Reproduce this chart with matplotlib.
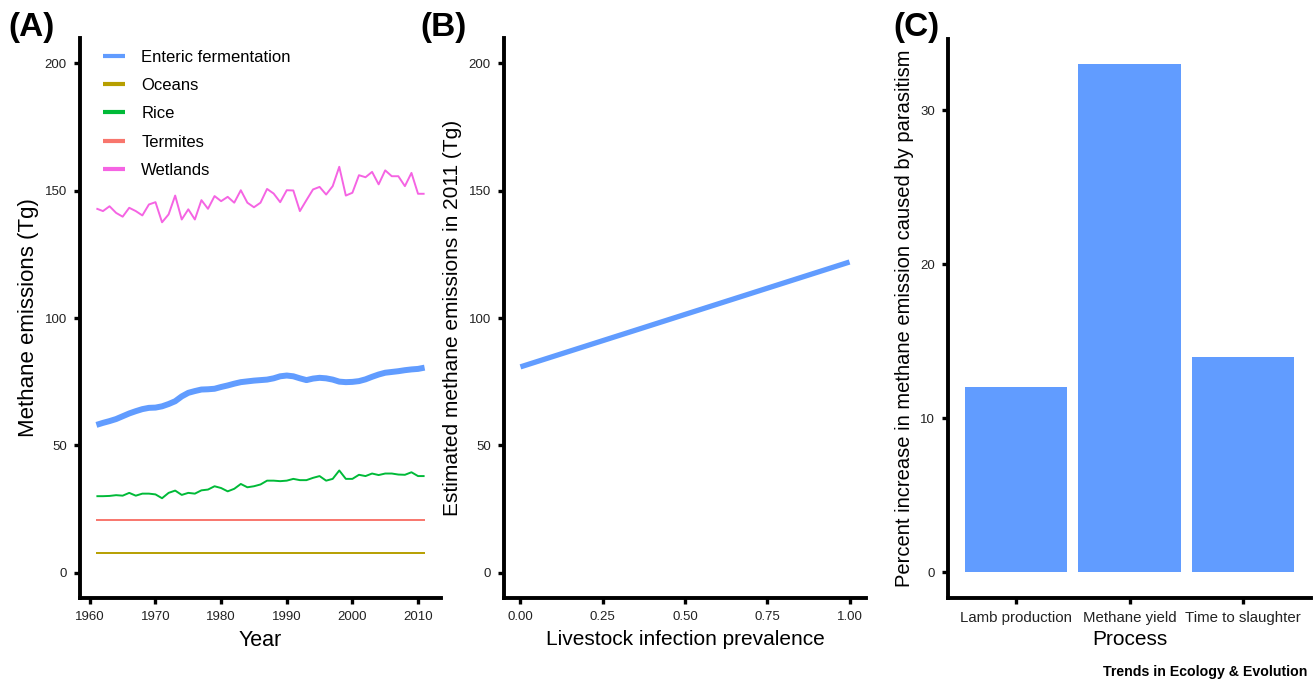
import numpy as np
import matplotlib
matplotlib.use("Agg")
import matplotlib.pyplot as plt
from matplotlib import font_manager

plt.rcParams['font.family'] = ['Liberation Sans', 'DejaVu Sans']

# ---- Panel A data (Tg per year, 1961-2011) ----
years = np.arange(1961, 2012)

enteric = [58.0, 58.8, 59.5, 60.3, 61.4, 62.5, 63.4, 64.2, 64.7, 64.8,
           65.3, 66.2, 67.3, 69.2, 70.6, 71.3, 71.9, 72.0, 72.2, 72.9,
           73.5, 74.2, 74.8, 75.1, 75.4, 75.6, 75.8, 76.3, 77.1, 77.4,
           77.1, 76.3, 75.6, 76.2, 76.5, 76.3, 75.8, 75.0, 74.8, 74.9,
           75.2, 75.9, 76.9, 77.8, 78.5, 78.8, 79.1, 79.5, 79.8, 80.0, 80.5]

oceans = [7.6] * len(years)

rice = [30.0, 30.0, 30.1, 30.4, 30.2, 31.3, 30.2, 31.0, 31.0, 30.7,
        29.2, 31.3, 32.2, 30.5, 31.3, 31.0, 32.3, 32.6, 33.9, 33.2,
        31.9, 32.9, 34.8, 33.5, 33.9, 34.6, 36.1, 36.1, 35.9, 36.1,
        36.8, 36.3, 36.3, 37.2, 37.9, 36.1, 36.8, 40.1, 36.8, 36.8,
        38.4, 37.9, 38.9, 38.3, 38.9, 38.9, 38.5, 38.4, 39.4, 37.9, 37.9]

termites = [20.6] * len(years)

wetlands = [143.0, 142.0, 143.9, 141.3, 139.8, 143.3, 142.0, 140.3, 144.6, 145.5,
            137.6, 140.7, 148.1, 138.7, 142.7, 138.7, 146.3, 142.9, 147.9, 145.9,
            147.6, 145.3, 150.2, 145.3, 143.5, 145.3, 150.7, 148.9, 145.5, 150.2,
            150.1, 142.0, 146.3, 150.5, 151.5, 148.5, 151.8, 159.4, 148.1, 149.2,
            156.1, 155.3, 157.4, 152.5, 158.0, 155.7, 155.7, 151.8, 157.0, 148.8, 148.8]

sources = ["Enteric fermentation", "Oceans", "Rice", "Termites", "Wetlands"]
source_colors = ["#619CFF", "#B79F00", "#00BA38", "#F8766D", "#F564E3"]

# ---- Panel B data ----
prevalence = [0.0, 1.0]
emissions_2011 = [80.8, 122.0]

# ---- Panel C data ----
processes = ["Lamb production", "Methane yield", "Time to slaughter"]
pct_increase = [12.0, 33.0, 14.0]

W, H = 1315, 681
fig = plt.figure(figsize=(W / 100, H / 100), dpi=100)


def px_axes(left, top, right, bottom):
    return fig.add_axes([left / W, 1 - bottom / H, (right - left) / W, (bottom - top) / H])


def style_axes(ax):
    for side in ("top", "right"):
        ax.spines[side].set_visible(False)
    for side in ("left", "bottom"):
        ax.spines[side].set_linewidth(2.8)
        ax.spines[side].set_color("black")
    ax.tick_params(direction="out", length=4.5, width=2.4, color="black",
                   labelsize=9.5, labelcolor="#222222", pad=5)


# Panel A
axA = px_axes(80, 38, 441, 598)
series = [enteric, oceans, rice, termites, wetlands]
for name, vals, col in zip(sources, series, source_colors):
    lw = 4.3 if name == "Enteric fermentation" else 1.4
    axA.plot(years, vals, color=col, lw=lw, label=name, solid_capstyle="butt")
axA.set_xlim(1958.5, 2013.5)
axA.set_ylim(-10, 210)
axA.set_xticks([1960, 1970, 1980, 1990, 2000, 2010])
axA.set_yticks([0, 50, 100, 150, 200])
style_axes(axA)
axA.set_xlabel("Year", fontsize=15.5, labelpad=5)
axA.set_ylabel("Methane emissions (Tg)", fontsize=16, labelpad=4)
leg = axA.legend(loc="upper left", bbox_to_anchor=(0.022, 1.006), frameon=False,
                 fontsize=12, handlelength=1.3, handletextpad=1.0, labelspacing=0.8)
for h in leg.get_lines():
    h.set_linewidth(3.0)

# Panel B
axB = px_axes(504, 38, 866, 598)
axB.plot(prevalence, emissions_2011, color="#619CFF", lw=3.8, solid_capstyle="butt")
axB.set_xlim(-0.05, 1.05)
axB.set_ylim(-10, 210)
axB.set_xticks([0, 0.25, 0.5, 0.75, 1.0])
axB.set_xticklabels(["0.00", "0.25", "0.50", "0.75", "1.00"])
axB.set_yticks([0, 50, 100, 150, 200])
style_axes(axB)
axB.set_xlabel("Livestock infection prevalence", fontsize=15, labelpad=5)
axB.set_ylabel("Estimated methane emissions in 2011 (Tg)", fontsize=15, labelpad=5)

# Panel C
axC = px_axes(948, 38.7, 1311, 597.7)
xpos = np.arange(1, len(processes) + 1)
axC.bar(xpos, pct_increase, width=0.9, color="#619CFF")
axC.set_xlim(0.4, 3.6)
axC.set_ylim(-1.65, 34.65)
axC.set_xticks(xpos)
axC.set_xticklabels(processes)
axC.set_yticks([0, 10, 20, 30])
style_axes(axC)
axC.tick_params(axis="x", labelsize=10.8)
axC.set_xlabel("Process", fontsize=15, labelpad=4)
axC.set_ylabel("Percent increase in methane emission caused by parasitism",
               fontsize=14.5, labelpad=4)

# panel letters
for x, lab in [(8, "(A)"), (420, "(B)"), (893, "(C)")]:
    fig.text(x / W, 1 - 36 / H, lab, fontsize=24, fontweight="bold", ha="left", va="baseline")

# journal credit, condensed face if one is available
installed = {f.name for f in font_manager.fontManager.ttflist}
if "Liberation Sans Narrow" in installed:
    credit_family, credit_size = ["Liberation Sans Narrow", "DejaVu Sans"], 12.3
else:
    credit_family, credit_size = ["Liberation Sans", "DejaVu Sans"], 10.2
fig.text(1307 / W, 1 - 676 / H, "Trends in Ecology & Evolution", fontsize=credit_size,
         fontweight="bold", ha="right", va="baseline", family=credit_family)

fig.savefig("out.png", dpi=100)
